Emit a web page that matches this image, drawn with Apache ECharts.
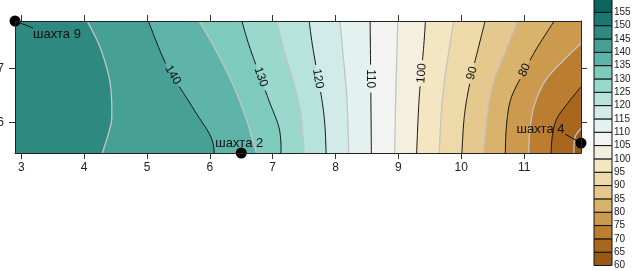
<!DOCTYPE html>
<html>
<head>
<meta charset="utf-8">
<script src="https://cdn.jsdelivr.net/npm/echarts@6/dist/echarts.min.js"></script>
<style>
html, body { margin: 0; padding: 0; background: #fff; }
#main { width: 636px; height: 271px; }
</style>
</head>
<body>
<div id="main"></div>
<script>
// шахты (точки наблюдения)
var wellNames = ['шахта 9', 'шахта 2', 'шахта 4'];
var wellX = [2.9, 6.5, 11.905];
var wellY = [7.876, 5.437, 5.62];

var xTicks = [3, 4, 5, 6, 7, 8, 9, 10, 11];
var yTicks = [6, 7];

// границы области = крайние шахты
var X0 = Math.min.apply(null, wellX), X1 = Math.max.apply(null, wellX);
var Y0 = Math.min.apply(null, wellY), Y1 = Math.max.apply(null, wellY);

// изолинии (сверху вниз / от правого края вниз)
var contourLevels = [145, 140, 135, 130, 125, 120, 115, 110, 105, 100, 95, 90, 85, 80, 75, 70, 65];
var contourPaths = [
  [[4.05, Y1], [4.26, 7.37], [4.41, 6.75], [4.44, 6.13], [4.40, 5.85], [4.29, Y0]],
  [[5.02, Y1], [5.31, 7.06], [5.65, 6.42], [5.84, 6.07], [5.98, 5.82], [6.05, 5.62], [6.07, Y0]],
  [[5.83, Y1], [6.08, 7.37], [6.35, 6.75], [6.56, 6.13], [6.69, 5.64], [6.74, Y0]],
  [[6.51, Y1], [6.64, 7.37], [6.93, 6.44], [7.09, 5.95], [7.13, 5.64], [7.13, Y0]],
  [[7.07, Y1], [7.17, 7.37], [7.33, 6.75], [7.45, 6.13], [7.50, Y0]],
  [[7.58, Y1], [7.64, 7.37], [7.78, 6.44], [7.83, 5.95], [7.85, Y0]],
  [[8.07, Y1], [8.11, 7.37], [8.18, 6.44], [8.21, Y0]],
  [[8.55, Y1], [8.56, 6.7], [8.57, Y0]],
  [[8.99, Y1], [8.96, 6.6], [8.94, Y0]],
  [[9.43, Y1], [9.40, 7.37], [9.33, 6.44], [9.29, Y0]],
  [[9.88, Y1], [9.81, 7.37], [9.73, 6.75], [9.68, 6.13], [9.65, Y0]],
  [[10.38, Y1], [10.27, 7.37], [10.14, 6.75], [10.05, 6.13], [10.01, Y0]],
  [[10.89, Y1], [10.72, 7.37], [10.51, 6.75], [10.41, 6.13], [10.35, Y0]],
  [[11.48, Y1], [11.20, 7.37], [10.98, 6.9], [10.79, 6.44], [10.72, 5.95], [10.70, Y0]],
  [[X1, 7.46], [11.68, 7.21], [11.36, 6.81], [11.18, 6.38], [11.10, 5.95], [11.07, Y0]],
  [[X1, 6.66], [11.71, 6.38], [11.52, 6.07], [11.45, 5.76], [11.43, Y0]],
  [[X1, 5.89], [11.81, 5.73], [11.79, Y0]]
];

// подписи изолиний
var labelLevels = [140, 130, 120, 110, 100, 90, 80];
var labelX = [5.41, 6.81, 7.72, 8.56, 9.37, 10.17, 11.01];
var labelY = [6.88, 6.84, 6.81, 6.81, 6.91, 6.91, 6.97];
var labelAngle = [-59, -70, -80, -90, 86, 76, 66];

// шкала цветов
var bandLow = [60, 65, 70, 75, 80, 85, 90, 95, 100, 105, 110, 115, 120, 125, 130, 135, 140, 145, 150, 155];
var bandColors = ['#985816', '#a8661f', '#bb7d30', '#cc9a4f', '#d9b36b', '#e5c88e', '#eedaa9', '#f5e6c3',
  '#f5efe0', '#f3f4f2', '#e3f1ef', '#d1ece8', '#b6e3dc', '#9ad8cc', '#7ecbbe', '#5fb4a9',
  '#46a096', '#2e8a80', '#1a7870', '#0a655d'];
var cbTicks = [60, 65, 70, 75, 80, 85, 90, 95, 100, 105, 110, 115, 120, 125, 130, 135, 140, 145, 150, 155];

var FONT = 'Liberation Sans';

// сглаживание ломаной (Catmull-Rom) в пикселях
function smoothPath(pts) {
  if (pts.length < 3) return pts.slice();
  var out = [pts[0]];
  for (var i = 0; i < pts.length - 1; i++) {
    var p0 = pts[i - 1] || pts[i], p1 = pts[i], p2 = pts[i + 1], p3 = pts[i + 2] || pts[i + 1];
    var steps = Math.max(2, Math.ceil(Math.hypot(p2[0] - p1[0], p2[1] - p1[1]) / 2));
    for (var k = 1; k <= steps; k++) {
      var t = k / steps, t2 = t * t, t3 = t2 * t;
      out.push([0, 1].map(function (d) {
        return 0.5 * (2 * p1[d] + (-p0[d] + p2[d]) * t +
          (2 * p0[d] - 5 * p1[d] + 4 * p2[d] - p3[d]) * t2 +
          (-p0[d] + 3 * p1[d] - 3 * p2[d] + p3[d]) * t3);
      }));
    }
  }
  return out;
}

// разрыв линии под подписью
function cutPath(pts, gap) {
  if (!gap) return [pts];
  var out = [], cur = [];
  for (var i = 0; i < pts.length; i++) {
    var p = pts[i];
    if (Math.hypot(p[0] - gap[0], p[1] - gap[1]) < gap[2]) {
      if (cur.length > 1) out.push(cur);
      cur = [];
    } else cur.push(p);
  }
  if (cur.length > 1) out.push(cur);
  return out;
}

function bandColor(lo) {
  return bandColors[bandLow.indexOf(lo)];
}

var chart = echarts.init(document.getElementById('main'));

var tickStyle = { show: true, inside: false, length: 6, lineStyle: { color: '#333', width: 1 } };
var lineStyle = { show: true, onZero: false, lineStyle: { color: '#222', width: 1 } };

var option = {
  animation: false,
  grid: [
    { left: 15, top: 21, width: 566, height: 132, show: true, borderWidth: 0,
      outerBoundsMode: 'none', containLabel: false,
      backgroundColor: bandColor(145) },
    { left: 594, top: -1, width: 18, height: 266.5, outerBoundsMode: 'none', containLabel: false }
  ],
  xAxis: [
    { type: 'value', gridIndex: 0, min: X0, max: X1, position: 'bottom', z: 10,
      axisLine: lineStyle,
      axisTick: Object.assign({ customValues: xTicks }, tickStyle),
      axisLabel: { customValues: xTicks, margin: 9, fontSize: 12, color: '#222', fontFamily: FONT },
      splitLine: { show: false } },
    { type: 'value', gridIndex: 0, min: X0, max: X1, position: 'top', z: 10,
      axisLine: lineStyle,
      axisTick: Object.assign({ customValues: xTicks }, tickStyle),
      axisLabel: { show: false }, splitLine: { show: false } },
    { type: 'value', gridIndex: 1, min: 0, max: 1, show: false }
  ],
  yAxis: [
    { type: 'value', gridIndex: 0, min: Y0, max: Y1, position: 'left', z: 10,
      axisLine: lineStyle,
      axisTick: Object.assign({ customValues: yTicks }, tickStyle),
      axisLabel: { customValues: yTicks, margin: 11, fontSize: 12, color: '#222', fontFamily: FONT },
      splitLine: { show: false } },
    { type: 'value', gridIndex: 0, min: Y0, max: Y1, position: 'right', z: 10,
      axisLine: lineStyle,
      axisTick: Object.assign({ customValues: yTicks }, tickStyle),
      axisLabel: { show: false }, splitLine: { show: false } },
    { type: 'value', gridIndex: 1, min: 60, max: 160, position: 'right',
      axisLine: { show: false }, axisTick: { show: false }, splitLine: { show: false },
      axisLabel: { customValues: cbTicks, margin: 2, fontSize: 10, color: '#222', fontFamily: FONT } }
  ],
  series: [
    // заливка между изолиниями
    {
      type: 'custom', xAxisIndex: 0, yAxisIndex: 0, z: 1,
      data: contourLevels.map(function (l, i) { return [X0, Y0, i]; }),
      renderItem: function (params, api) {
        var i = params.dataIndex;
        var src = contourPaths[i];
        var pts = smoothPath(src.map(function (p) { return api.coord(p); }));
        pts.push(api.coord([X1, Y0]));
        if (src[0][1] === Y1) pts.push(api.coord([X1, Y1]));
        return { type: 'polygon', shape: { points: pts },
          style: { fill: bandColor(contourLevels[i] - 5), stroke: null } };
      }
    },
    // сами изолинии и подписи
    {
      type: 'custom', xAxisIndex: 0, yAxisIndex: 0, z: 3,
      data: contourLevels.map(function (l, i) { return [X0, Y0, i]; }),
      renderItem: function (params, api) {
        var i = params.dataIndex, lev = contourLevels[i];
        var major = lev % 10 === 0;
        var pts = smoothPath(contourPaths[i].map(function (p) { return api.coord(p); }));
        var li = labelLevels.indexOf(lev), gap = null, children = [];
        if (li >= 0) {
          var c = api.coord([labelX[li], labelY[li]]);
          var txt = String(lev);
          gap = [c[0], c[1], 3.3 * txt.length + 3];
          children.push({ type: 'text', x: c[0], y: c[1], rotation: labelAngle[li] * Math.PI / 180,
            style: { text: txt, x: 0, y: 0, align: 'center', verticalAlign: 'middle',
              fill: '#111', font: '12px ' + FONT } });
        }
        cutPath(pts, gap).forEach(function (seg) {
          children.push({ type: 'polyline', shape: { points: seg },
            style: { fill: null, stroke: major ? '#111' : '#c4c4c4', lineWidth: major ? 1 : 1.3 } });
        });
        return { type: 'group', children: children };
      }
    },
    // выноски к подписям шахт
    {
      type: 'custom', xAxisIndex: 0, yAxisIndex: 0, z: 4,
      data: wellNames.map(function (n, i) { return [wellX[i], wellY[i]]; }),
      renderItem: function (params, api) {
        var leader = [[18, 7], null, [-16, -9]][params.dataIndex];
        if (!leader) return null;
        var p = api.coord([api.value(0), api.value(1)]);
        return { type: 'line', shape: { x1: p[0], y1: p[1], x2: p[0] + leader[0], y2: p[1] + leader[1] },
          style: { stroke: '#111', lineWidth: 1 } };
      }
    },
    // шахты
    {
      type: 'scatter', xAxisIndex: 0, yAxisIndex: 0, z: 5, clip: false,
      symbolSize: 11,
      itemStyle: { color: '#000', opacity: 1 },
      data: wellNames.map(function (n, i) {
        var lab = [
          { position: 'inside', align: 'left', offset: [18, 13] },
          { position: 'inside', align: 'center', offset: [-2, -9.5] },
          { position: 'inside', align: 'right', offset: [-16.5, -13.4] }
        ][i];
        return { name: n, value: [wellX[i], wellY[i]],
          label: Object.assign({ show: true, formatter: '{b}', color: '#111', fontSize: 13,
            fontFamily: FONT }, lab) };
      })
    },
    // цветовая шкала
    {
      type: 'custom', xAxisIndex: 2, yAxisIndex: 2, z: 2,
      data: bandLow.map(function (b, i) { return [0.5, b, i]; }),
      renderItem: function (params, api) {
        var lo = bandLow[params.dataIndex];
        var a = api.coord([0, lo]), b = api.coord([1, lo + 5]);
        return { type: 'rect', shape: { x: a[0], y: b[1], width: b[0] - a[0], height: a[1] - b[1] },
          style: { fill: bandColors[params.dataIndex], stroke: '#111', lineWidth: 1 } };
      }
    }
  ]
};

chart.setOption(option);
</script>
</body>
</html>
